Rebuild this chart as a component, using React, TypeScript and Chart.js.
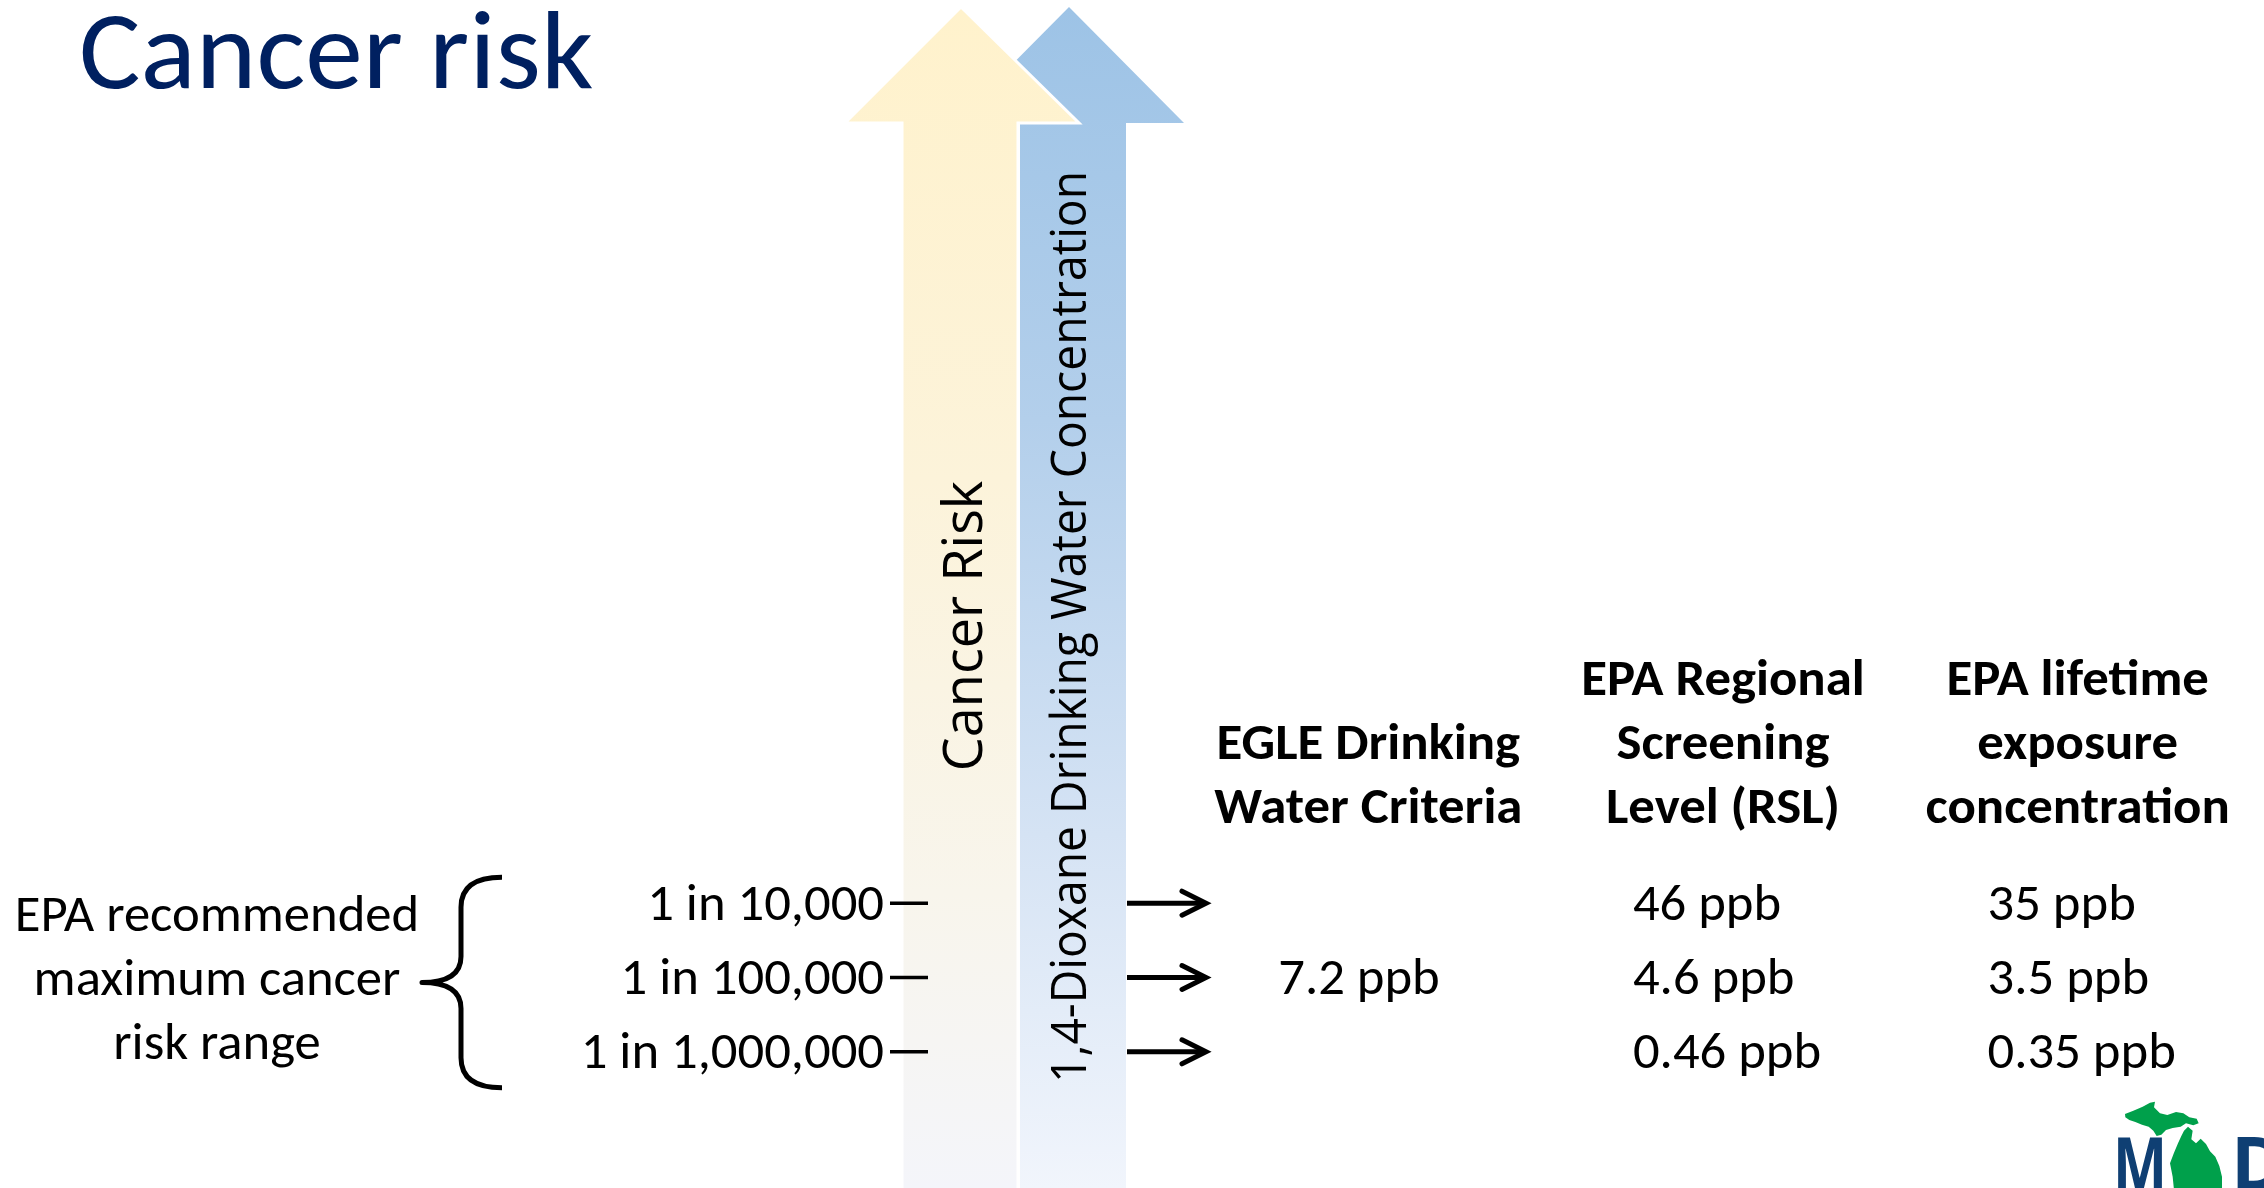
import React, { useEffect, useRef } from 'react';
import { Chart, registerables } from 'chart.js';

Chart.register(...registerables);

// ---------------- data ----------------
const TITLE = 'Cancer risk';
const RISK_AXIS_TITLE = 'Cancer Risk';
const CONCENTRATION_AXIS_TITLE = '1,4-Dioxane Drinking Water Concentration';
const RISK_LEVELS = ['1 in 10,000', '1 in 100,000', '1 in 1,000,000'];
const RANGE_NOTE = ['EPA recommended', 'maximum cancer', 'risk range'];
const COLUMNS = [
  'EGLE Drinking Water Criteria',
  'EPA Regional Screening Level (RSL)',
  'EPA lifetime exposure concentration',
];
const COLUMN_HEADER_LINES = [
  ['EGLE Drinking', 'Water Criteria'],
  ['EPA Regional', 'Screening', 'Level (RSL)'],
  ['EPA lifetime', 'exposure', 'concentration'],
];
const EGLE_PPB: (number | null)[] = [null, 7.2, null];
const RSL_PPB: (number | null)[] = [46, 4.6, 0.46];
const LIFETIME_PPB: (number | null)[] = [35, 3.5, 0.35];
const UNIT = 'ppb';
const SERIES = [EGLE_PPB, RSL_PPB, LIFETIME_PPB];

// ---------------- fonts ----------------
const CAL_CAP = 0.632; // Calibri cap-height / em
const BODY_PX = 52;

function hasFont(name: string): boolean {
  const c = document.createElement('canvas').getContext('2d')!;
  const s = 'abcdefghijklmnopqrstuvwxyz ABCDEFGHIJKLM 0123456789';
  for (const base of ['monospace', 'serif']) {
    c.font = `40px ${base}`;
    const w0 = c.measureText(s).width;
    c.font = `40px "${name}", ${base}`;
    const w1 = c.measureText(s).width;
    if (Math.abs(w0 - w1) > 0.5) return true;
  }
  return false;
}

type FontInfo = { cal: string; capR: number; capB: number; sxR: number; sxB: number; sans: string };
let FONTS: FontInfo | null = null;
function fonts(): FontInfo {
  if (FONTS) return FONTS;
  const c = document.createElement('canvas').getContext('2d')!;
  const cal = ['Carlito', 'Calibri'].find(hasFont) || (hasFont('Lato') ? 'Lato' : 'Open Sans');
  const sans = ['Open Sans', 'Noto Sans'].find(hasFont) || 'sans-serif';
  c.font = `100px "${cal}"`;
  const capR = c.measureText('H').actualBoundingBoxAscent / 100;
  c.font = `bold 100px "${cal}"`;
  const capB = c.measureText('H').actualBoundingBoxAscent / 100;
  c.font = `${(100 * CAL_CAP) / capR}px "${cal}"`;
  const sxR = (7.776 * 100) / c.measureText('EPA recommended').width;
  c.font = `bold ${(100 * CAL_CAP) / capB}px "${cal}"`;
  const sxB = (5.85 * 100) / c.measureText('concentration').width;
  FONTS = { cal, capR, capB, sxR, sxB, sans };
  return FONTS;
}

function drawCal(
  ctx: CanvasRenderingContext2D,
  text: string,
  x: number,
  y: number,
  px: number,
  bold: boolean,
  align: CanvasTextAlign,
  color: string
) {
  const F = fonts();
  const size = (px * CAL_CAP) / (bold ? F.capB : F.capR);
  ctx.save();
  ctx.translate(x, y);
  ctx.scale(bold ? F.sxB : F.sxR, 1);
  ctx.font = `${bold ? 'bold ' : ''}${size}px "${F.cal}"`;
  ctx.textAlign = align;
  ctx.textBaseline = 'alphabetic';
  ctx.fillStyle = color;
  ctx.fillText(text, 0, 0);
  ctx.restore();
}

// ---------------- drawing helpers ----------------
function drawBigArrows(ctx: CanvasRenderingContext2D, H: number) {
  // blue arrow (behind)
  const gb = ctx.createLinearGradient(0, 7, 0, H);
  gb.addColorStop(0, '#9dc3e6');
  gb.addColorStop(0.35, '#b3cfeb');
  gb.addColorStop(0.7, '#d5e3f4');
  gb.addColorStop(1, '#f1f5fc');
  ctx.save();
  ctx.beginPath();
  ctx.moveTo(1069, 7);
  ctx.lineTo(1184, 123);
  ctx.lineTo(1126, 123);
  ctx.lineTo(1126, H + 2);
  ctx.lineTo(1020, H + 2);
  ctx.lineTo(1020, 123);
  ctx.lineTo(954, 123);
  ctx.closePath();
  ctx.fillStyle = gb;
  ctx.fill();
  // yellow arrow (front) with white outline
  const gy = ctx.createLinearGradient(0, 7, 0, H);
  gy.addColorStop(0, '#fff2cc');
  gy.addColorStop(0.4, '#fcf3da');
  gy.addColorStop(0.75, '#f8f5ec');
  gy.addColorStop(1, '#f4f5fa');
  ctx.beginPath();
  ctx.moveTo(961, 7);
  ctx.lineTo(1079, 123);
  ctx.lineTo(1018, 123);
  ctx.lineTo(1018, H + 2);
  ctx.lineTo(902, H + 2);
  ctx.lineTo(902, 123);
  ctx.lineTo(845, 123);
  ctx.closePath();
  ctx.fillStyle = gy;
  ctx.fill();
  ctx.strokeStyle = '#ffffff';
  ctx.lineWidth = 3;
  ctx.lineJoin = 'miter';
  ctx.stroke();
  ctx.restore();
}

function drawRotated(
  ctx: CanvasRenderingContext2D,
  text: string,
  x: number,
  y: number,
  px: number,
  squeeze: number
) {
  const F = fonts();
  ctx.save();
  ctx.translate(x, y);
  ctx.rotate(-Math.PI / 2);
  ctx.scale(squeeze, 1);
  ctx.font = `${px}px "${F.sans}"`;
  ctx.textAlign = 'center';
  ctx.textBaseline = 'alphabetic';
  ctx.fillStyle = '#000000';
  ctx.fillText(text, 0, 0);
  ctx.restore();
}

function drawBrace(ctx: CanvasRenderingContext2D, top: number, bottom: number) {
  const mid = (top + bottom) / 2;
  const xe = 502, xv = 461, xt = 422;
  ctx.save();
  ctx.strokeStyle = '#000000';
  ctx.lineWidth = 5;
  ctx.lineCap = 'butt';
  ctx.lineJoin = 'round';
  ctx.beginPath();
  ctx.moveTo(xe, top);
  ctx.quadraticCurveTo(xv, top, xv, top + 30);
  ctx.lineTo(xv, mid - 26);
  ctx.quadraticCurveTo(xv, mid, xt, mid);
  ctx.quadraticCurveTo(xv, mid, xv, mid + 26);
  ctx.lineTo(xv, bottom - 30);
  ctx.quadraticCurveTo(xv, bottom, xe, bottom);
  ctx.stroke();
  ctx.restore();
}

function drawSmallArrow(ctx: CanvasRenderingContext2D, x0: number, x1: number, y: number) {
  ctx.save();
  ctx.strokeStyle = '#000000';
  ctx.lineWidth = 5;
  ctx.lineCap = 'butt';
  ctx.beginPath();
  ctx.moveTo(x0, y);
  ctx.lineTo(x1 - 2, y);
  ctx.stroke();
  ctx.lineCap = 'round';
  ctx.lineJoin = 'miter';
  ctx.beginPath();
  ctx.moveTo(x1 - 24, y - 12);
  ctx.lineTo(x1, y);
  ctx.lineTo(x1 - 24, y + 12);
  ctx.stroke();
  ctx.restore();
}

function drawLogo(ctx: CanvasRenderingContext2D) {
  const F = fonts();
  const ox = 2050, oy = 1060;
  const P = (pts: number[][]) => {
    ctx.beginPath();
    pts.forEach(([zx, zy], i) => {
      const x = ox + zx / 3, y = oy + zy / 3;
      if (i === 0) ctx.moveTo(x, y); else ctx.lineTo(x, y);
    });
    ctx.closePath();
    ctx.fill();
  };
  ctx.save();
  // letters
  ctx.fillStyle = '#0f3f73';
  ctx.textBaseline = 'alphabetic';
  ctx.font = `bold 74px "${F.sans}"`;
  ctx.save();
  ctx.translate(2113, 1190);
  const mw = ctx.measureText('M').width;
  ctx.scale(54 / mw, 1);
  ctx.fillText('M', 0, 0);
  ctx.restore();
  ctx.fillText('D', 2231, 1190);
  // Michigan
  ctx.fillStyle = '#00a04b';
  P([
    [225, 162], [250, 152], [278, 140], [300, 128], [315, 125], [312, 142], [330, 160], [352, 165],
    [378, 156], [400, 160], [418, 172], [440, 176], [446, 190], [430, 196], [408, 190], [392, 200],
    [368, 204], [348, 210], [334, 224], [320, 228], [310, 212], [296, 200], [276, 194], [256, 186],
    [238, 180], [226, 172],
  ]);
  P([
    [402, 212], [414, 200], [428, 212], [424, 238], [438, 250], [452, 236], [468, 252], [480, 274],
    [496, 290], [508, 318], [516, 350], [516, 390], [372, 390], [368, 350], [360, 310], [372, 278],
    [384, 250], [394, 228],
  ]);
  ctx.restore();
}

// ---------------- plugin ----------------
const slidePlugin = {
  id: 'slideDecor',
  beforeDatasetsDraw(chart: any) {
    const ctx: CanvasRenderingContext2D = chart.ctx;
    const H = chart.height;
    const y = chart.scales.y;
    const x = chart.scales.x;
    const rowY = RISK_LEVELS.map((_, i) => y.getPixelForValue(i));
    const capPx = BODY_PX * CAL_CAP;

    // title
    drawCal(ctx, TITLE, 79, 88, 114, false, 'left', '#002060');

    // big arrows + their titles
    drawBigArrows(ctx, H);
    drawRotated(ctx, RISK_AXIS_TITLE, 982, 626, 54, 1);
    drawRotated(ctx, CONCENTRATION_AXIS_TITLE, 1086, 627, 50, 0.925);

    // risk level labels with dashes
    RISK_LEVELS.forEach((lab, i) => {
      drawCal(ctx, lab, 884, rowY[i] + capPx / 2, BODY_PX, false, 'right', '#000000');
      ctx.save();
      ctx.strokeStyle = '#000000';
      ctx.lineWidth = 3.5;
      ctx.beginPath();
      ctx.moveTo(890, rowY[i]);
      ctx.lineTo(928, rowY[i]);
      ctx.stroke();
      ctx.restore();
      drawSmallArrow(ctx, 1127, 1206, rowY[i]);
    });

    // brace + note
    drawBrace(ctx, rowY[0] - 26, rowY[rowY.length - 1] + 36);
    const mid = rowY[1];
    RANGE_NOTE.forEach((t, i) => {
      drawCal(ctx, t, 217, mid + 17 + (i - 1) * 64, BODY_PX, false, 'center', '#000000');
    });

    // column headers
    COLUMN_HEADER_LINES.forEach((lines, c) => {
      const cx = x.getPixelForValue(c);
      const lastBase = rowY[0] - 80;
      lines.forEach((t, k) => {
        const base = lastBase - (lines.length - 1 - k) * 64;
        drawCal(ctx, t, cx, base, BODY_PX, true, 'center', '#000000');
      });
    });

    drawLogo(ctx);
  },
  afterDatasetsDraw(chart: any) {
    const ctx: CanvasRenderingContext2D = chart.ctx;
    const x = chart.scales.x;
    const band = x.getPixelForValue(1) - x.getPixelForValue(0);
    const capPx = BODY_PX * CAL_CAP;
    chart.data.datasets.forEach((ds: any, di: number) => {
      const meta = chart.getDatasetMeta(di);
      meta.data.forEach((el: any, j: number) => {
        const raw = ds.data[j];
        drawCal(ctx, `${raw.v} ${UNIT}`, el.x - band * 0.254, el.y + capPx / 2, BODY_PX, false, 'left', '#000000');
      });
    });
  },
};

export default function App() {
  const ref = useRef<HTMLCanvasElement | null>(null);
  useEffect(() => {
    if (!ref.current) return;
    const datasets = SERIES.map((vals, c) => ({
      label: COLUMNS[c],
      data: vals
        .map((v, r) => (v == null ? null : { x: COLUMNS[c], y: RISK_LEVELS[r], v }))
        .filter((p) => p !== null),
      pointRadius: 0,
      pointHoverRadius: 0,
      showLine: false,
    }));
    const chart = new Chart(ref.current, {
      type: 'scatter',
      data: { datasets } as any,
      options: {
        animation: false,
        responsive: true,
        maintainAspectRatio: false,
        events: [],
        layout: { padding: { left: 1191, right: 9, top: 866, bottom: 99 } },
        plugins: { legend: { display: false }, tooltip: { enabled: false }, title: { display: false } },
        scales: {
          x: { type: 'category', labels: COLUMNS, offset: true, display: false },
          y: { type: 'category', labels: RISK_LEVELS, offset: true, display: false },
        },
      } as any,
      plugins: [slidePlugin],
    });
    return () => chart.destroy();
  }, []);
  return (
    <div style={{ position: 'fixed', left: 0, top: 0, width: '100vw', height: '100vh', background: '#ffffff' }}>
      <canvas ref={ref} />
    </div>
  );
}
